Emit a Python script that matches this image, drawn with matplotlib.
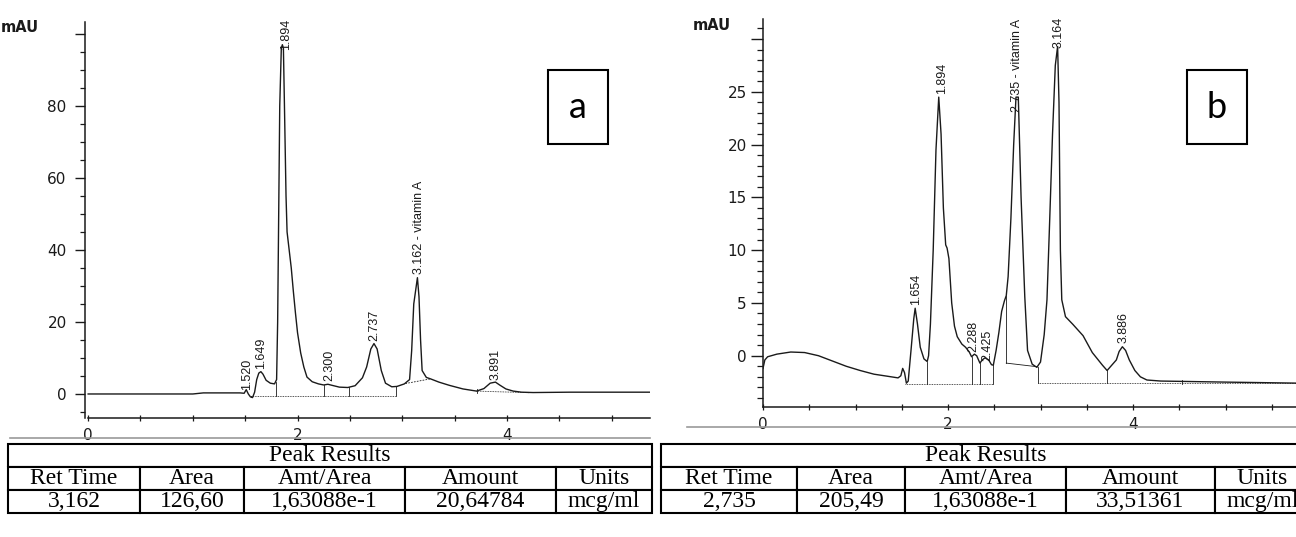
import numpy as np
import matplotlib
matplotlib.use('Agg')
import matplotlib.pyplot as plt
from matplotlib.patches import Rectangle
from matplotlib.ticker import MultipleLocator

# chromatogram a (time in min, signal in mAU)
a_time = [0.0, 1.0, 1.1, 1.45, 1.49, 1.51, 1.53, 1.55, 1.57, 1.59, 1.61, 1.63, 1.65, 1.67, 1.70,
          1.74, 1.78, 1.80, 1.81, 1.82, 1.83, 1.845, 1.855, 1.865, 1.875, 1.89, 1.90, 1.92, 1.94,
          1.96, 1.98, 2.00, 2.03, 2.06, 2.09, 2.14, 2.20, 2.25, 2.29, 2.33, 2.40, 2.48, 2.55,
          2.62, 2.66, 2.70, 2.73, 2.76, 2.80, 2.84, 2.90, 2.95, 3.02, 3.07, 3.09, 3.11, 3.145,
          3.16, 3.175, 3.19, 3.23, 3.27, 3.35, 3.45, 3.58, 3.71, 3.78, 3.84, 3.89, 3.93, 3.99,
          4.06, 4.14, 4.25, 4.6, 5.4]
a_signal = [0.0, 0.0, 0.3, 0.3, 0.2, 1.2, 0.0, -0.8, -1.0, 0.5, 4.0, 5.8, 6.2, 5.5, 3.8,
            3.0, 2.8, 4.0, 20.0, 50.0, 80.0, 96.0, 97.0, 96.0, 80.0, 55.0, 45.0, 40.0, 35.0,
            28.5, 22.5, 17.0, 11.4, 7.5, 4.7, 3.4, 2.8, 2.5, 2.7, 2.4, 1.9, 1.8, 2.3,
            4.5, 7.5, 12.5, 14.0, 12.5, 6.5, 3.0, 2.0, 2.1, 2.8, 4.0, 12.0, 25.0, 32.3,
            27.0, 15.0, 6.5, 4.6, 4.2, 3.3, 2.4, 1.4, 0.8, 1.5, 3.0, 3.3, 2.5, 1.4,
            0.8, 0.5, 0.4, 0.5, 0.5]
a_peak_names = ['1.520', '1.649', '1.894', '2.300', '2.737', '3.162 - vitamin A', '3.891']
a_peak_rt = [1.52, 1.649, 1.894, 2.30, 2.737, 3.162, 3.891]
a_peak_height = [0.6, 6.6, 95.0, 3.3, 14.3, 32.8, 3.5]
a_drops = [1.56, 1.79, 2.25, 2.49, 2.94]
a_base = -0.5

# chromatogram b
b_time = [0.0, 0.02, 0.05, 0.15, 0.3, 0.45, 0.6, 0.75, 0.9, 1.05, 1.2, 1.35, 1.46, 1.49, 1.51,
          1.53, 1.55, 1.57, 1.60, 1.63, 1.645, 1.67, 1.70, 1.74, 1.775, 1.79, 1.81, 1.84, 1.87,
          1.90, 1.925, 1.95, 1.975, 1.99, 2.01, 2.04, 2.07, 2.10, 2.15, 2.19, 2.23, 2.255, 2.285,
          2.31, 2.345, 2.37, 2.40, 2.44, 2.47, 2.49, 2.52, 2.55, 2.58, 2.61, 2.63, 2.65, 2.68,
          2.71, 2.735, 2.76, 2.79, 2.83, 2.86, 2.91, 2.96, 3.0, 3.04, 3.07, 3.10, 3.13, 3.16,
          3.185, 3.20, 3.215, 3.23, 3.27, 3.35, 3.46, 3.56, 3.67, 3.72, 3.76, 3.82, 3.85, 3.885,
          3.92, 3.96, 4.02, 4.08, 4.15, 4.3, 5.0, 5.8]
b_signal = [-1.2, -0.4, -0.1, 0.15, 0.35, 0.3, 0.0, -0.5, -1.0, -1.4, -1.75, -1.95, -2.1, -1.9, -1.2,
            -1.6, -2.6, -2.4, 0.5, 3.5, 4.5, 3.0, 0.8, -0.3, -0.55, 0.0, 3.0, 10.0, 19.5,
            24.5, 21.0, 14.0, 10.5, 10.2, 9.2, 5.0, 2.8, 1.8, 1.1, 0.8, 0.35, -0.1, 0.15,
            0.0, -0.7, -0.4, -0.2, -0.4, -0.85, -0.9, 0.5, 2.2, 4.2, 5.2, 5.7, 7.5, 13.0,
            20.0, 24.5, 24.5, 15.0, 5.6, 0.5, -0.8, -1.1, -0.6, 2.0, 5.3, 13.0, 21.0, 27.5,
            29.3, 24.0, 10.0, 5.3, 3.7, 2.97, 1.9, 0.3, -0.9, -1.4, -1.0, -0.4, 0.4, 0.85,
            0.5, -0.4, -1.4, -2.0, -2.3, -2.4, -2.5, -2.6]
b_peak_names = ['1.654', '1.894', '2.288', '2.425', '2.735 - vitamin A', '3.164', '3.886']
b_peak_rt = [1.654, 1.94, 2.27, 2.425, 2.75, 3.20, 3.90]
b_peak_height = [4.7, 24.7, 0.2, -0.6, 23.0, 29.0, 1.1]
b_drops = [1.775, 2.255, 2.345, 2.49]
b_base = -2.7

# peak result tables
table_header = ['Ret Time', 'Area', 'Amt/Area', 'Amount', 'Units']
table_a = ['3,162', '126,60', '1,63088e-1', '20,64784', 'mcg/ml']
table_b = ['2,735', '205,49', '1,63088e-1', '33,51361', 'mcg/ml']

W, H = 1296, 537
fig = plt.figure(figsize=(W / 100, H / 100), dpi=100)
ink = '#1a1a1a'
trace_font = ['Liberation Sans', 'DejaVu Sans']


def px_axes(x0, y0, x1, y1):
    return fig.add_axes([x0 / W, 1 - y1 / H, (x1 - x0) / W, (y1 - y0) / H])


def style_axes(ax, xmax, ymaj, ylabels, ymin_step, tl_major, tl_minor, ypad):
    for s in ['top', 'right']:
        ax.spines[s].set_visible(False)
    for s in ['left', 'bottom']:
        ax.spines[s].set_color(ink)
        ax.spines[s].set_linewidth(1.1)
    ax.spines['bottom'].set_bounds(0, xmax)
    ax.set_yticks(ymaj, labels=ylabels)
    ax.yaxis.set_minor_locator(MultipleLocator(ymin_step))
    ax.set_xticks([0, 2, 4])
    ax.xaxis.set_minor_locator(MultipleLocator(0.5))
    ax.tick_params(axis='y', which='major', length=tl_major, width=1.0, color=ink,
                   labelsize=11, labelcolor=ink, pad=ypad)
    ax.tick_params(axis='y', which='minor', length=tl_minor, width=0.9, color=ink)
    ax.tick_params(axis='x', which='both', direction='inout', length=5, width=0.9, color=ink,
                   labelsize=11, labelcolor=ink, pad=5)
    ax.patch.set_alpha(0)


def draw_trace(ax, t, v, names, rts, heights):
    ax.plot(t, v, color=ink, lw=1.0)
    for name, rt, h in zip(names, rts, heights):
        ax.annotate(name, (rt, h), xytext=(0, 1), textcoords='offset points',
                    rotation=90, ha='center', va='bottom', fontsize=9,
                    family=trace_font, color=ink)


# panel a
ax_a = px_axes(85, 22, 650, 418)
xmax_a = -0.03 + 565 / 104.7
ax_a.set_xlim(-0.03, xmax_a)
ax_a.set_ylim(-6.67, 103.3)
style_axes(ax_a, xmax_a, [0, 20, 40, 60, 80, 100], ['0', '20', '40', '60', '80', ''],
           5, 7.2, 3.6, 6)
draw_trace(ax_a, a_time, a_signal, a_peak_names, a_peak_rt, a_peak_height)
for d in a_drops:
    ax_a.plot([d, d], [a_base, np.interp(d, a_time, a_signal)], color=ink, lw=0.6)
ax_a.plot([a_drops[0], a_drops[-1]], [a_base, a_base], color=ink, lw=0.6, ls=(0, (1, 1)))
ax_a.plot([3.03, 3.27], [2.9, 4.2], color=ink, lw=0.6, ls=(0, (2, 1.5)))
ax_a.plot([3.71, 4.22], [0.8, 0.35], color=ink, lw=0.6, ls=(0, (1, 1)))
ax_a.plot([3.71, 3.71], [0.3, 1.3], color=ink, lw=0.6)

# panel b
ax_b = px_axes(763, 19, 1296, 406.7)
xmax_b = 533 / 92.5
ax_b.set_xlim(0, xmax_b)
ax_b.set_ylim(-4.83, 31.9)
style_axes(ax_b, xmax_b, [0, 5, 10, 15, 20, 25, 30], ['0', '5', '10', '15', '20', '25', ''],
           1, 8.6, 4.3, 3)
draw_trace(ax_b, b_time, b_signal, b_peak_names, b_peak_rt, b_peak_height)
for d in b_drops:
    ax_b.plot([d, d], [b_base, np.interp(d, b_time, b_signal)], color=ink, lw=0.6)
ax_b.plot([1.54, b_drops[-1]], [b_base, b_base], color=ink, lw=0.6, ls=(0, (1, 1)))
ax_b.plot([2.63, 2.63], [-0.7, np.interp(2.63, b_time, b_signal)], color=ink, lw=0.6)
ax_b.plot([2.63, 2.97], [-0.7, -1.05], color=ink, lw=0.6)
ax_b.plot([2.97, 2.97], [-1.05, -2.62], color=ink, lw=0.6)
ax_b.plot([2.97, xmax_b], [-2.6, -2.6], color=ink, lw=0.6, ls=(0, (1, 1)))
ax_b.plot([3.72, 3.72], [-1.4, -2.55], color=ink, lw=0.6)
ax_b.plot([4.53, 4.53], [-2.3, -2.7], color=ink, lw=0.6)

# overlay in pixel units for labels, boxes and tables
ov = fig.add_axes([0, 0, 1, 1])
ov.set_xlim(0, W)
ov.set_ylim(H, 0)
ov.axis('off')
ov.patch.set_alpha(0)

ov.text(1, 28, 'mAU', ha='left', va='center', fontsize=10.5, weight='bold', color=ink)
ov.text(693, 25, 'mAU', ha='left', va='center', fontsize=10.5, weight='bold', color=ink)
ov.plot([10, 650], [438, 438], color='#9a9a9a', lw=1.2)
ov.plot([687, 1296], [427, 427], color='#9a9a9a', lw=1.2)

for x0, letter in [(548, 'a'), (1187, 'b')]:
    ov.add_patch(Rectangle((x0, 70), 60, 74, fill=False, ec='black', lw=1.5))
    ov.text(x0 + 30, 107, letter, ha='center', va='center', fontsize=26,
            family=['Lato', 'DejaVu Sans'], color='black')

row_top, row_h = 444, 23
for edges, values in [([8, 140, 244, 405, 556, 652], table_a),
                      ([661, 797, 905, 1066, 1215, 1310], table_b)]:
    widths = np.diff(edges)
    x0, x1 = edges[0], edges[-1]
    tbl = ov.table(cellText=[[''] * 5, table_header, values],
                   colWidths=list(widths / widths.sum()), cellLoc='center',
                   bbox=[x0 / W, 1 - (row_top + 3 * row_h) / H, (x1 - x0) / W, 3 * row_h / H])
    tbl.auto_set_font_size(False)
    for (r, c), cell in tbl.get_celld().items():
        cell.set_linewidth(1.5)
        cell.set_edgecolor('black')
        cell.get_text().set_fontsize(17)
        cell.get_text().set_fontfamily('Liberation Serif')
        if r == 0:
            cell.visible_edges = 'BTL' if c == 0 else ('BTR' if c == 4 else 'BT')
    ov.text((x0 + x1) / 2, row_top + row_h / 2, 'Peak Results',
            ha='center', va='center', fontsize=17, family='Liberation Serif', color='black')

fig.savefig('out.png', dpi=100)
